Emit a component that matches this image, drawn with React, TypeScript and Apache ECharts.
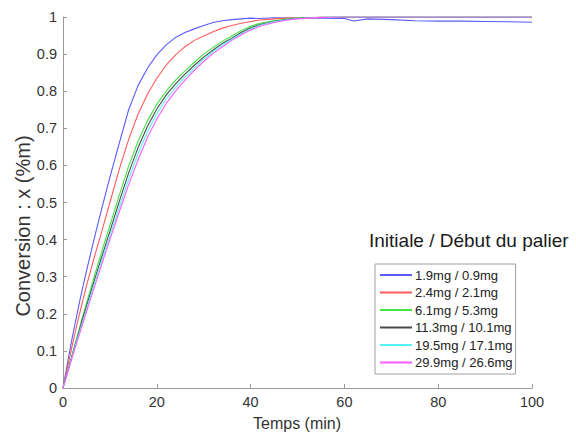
import React, { useEffect, useRef } from "react";
import * as echarts from "echarts";

const times = [0, 1, 2, 3, 4, 5, 6, 7, 8, 9, 10, 12, 14, 16, 18, 20, 22, 24, 26, 28, 30, 32, 34, 36, 38, 40, 42, 45, 48, 50, 55, 60, 62, 65, 70, 75, 80, 85, 90, 95, 100];

const blue = [0, 0.07, 0.138, 0.2, 0.26, 0.315, 0.368, 0.42, 0.47, 0.52, 0.568, 0.66, 0.75, 0.815, 0.862, 0.898, 0.925, 0.945, 0.958, 0.968, 0.977, 0.985, 0.99, 0.993, 0.995, 0.997, 0.996, 0.998, 0.997, 0.998, 0.997, 0.996, 0.989, 0.995, 0.993, 0.99, 0.989, 0.989, 0.988, 0.987, 0.986];
const red = [0, 0.058, 0.116, 0.172, 0.225, 0.275, 0.322, 0.367, 0.41, 0.455, 0.5, 0.59, 0.67, 0.738, 0.792, 0.835, 0.87, 0.898, 0.92, 0.937, 0.949, 0.96, 0.97, 0.977, 0.983, 0.988, 0.992, 0.995, 0.997, 0.998, 0.999, 0.999, 0.999, 0.999, 0.999, 0.999, 0.999, 0.999, 0.999, 0.999, 0.999];
const green = [0, 0.046, 0.092, 0.138, 0.184, 0.228, 0.272, 0.315, 0.357, 0.398, 0.438, 0.52, 0.598, 0.665, 0.72, 0.765, 0.8, 0.83, 0.855, 0.878, 0.9, 0.918, 0.935, 0.949, 0.963, 0.975, 0.983, 0.99, 0.995, 0.997, 0.999, 1, 1, 1, 1, 1, 1, 1, 1, 1, 1];
const black = [0, 0.045, 0.09, 0.134, 0.178, 0.22, 0.262, 0.303, 0.343, 0.383, 0.422, 0.503, 0.58, 0.648, 0.705, 0.752, 0.79, 0.82, 0.846, 0.87, 0.892, 0.911, 0.929, 0.943, 0.958, 0.971, 0.98, 0.988, 0.994, 0.996, 0.999, 1, 1, 1, 1, 1, 1, 1, 1, 1, 1];
const cyan = [0, 0.043, 0.087, 0.13, 0.171, 0.212, 0.253, 0.293, 0.333, 0.372, 0.41, 0.488, 0.563, 0.632, 0.69, 0.739, 0.779, 0.81, 0.838, 0.862, 0.887, 0.907, 0.925, 0.94, 0.955, 0.968, 0.978, 0.987, 0.993, 0.996, 0.999, 1, 1, 1, 1, 1, 1, 1, 1, 1, 1];
const magenta = [0, 0.042, 0.084, 0.125, 0.165, 0.205, 0.245, 0.284, 0.323, 0.362, 0.4, 0.475, 0.548, 0.615, 0.675, 0.725, 0.767, 0.8, 0.83, 0.856, 0.88, 0.902, 0.92, 0.937, 0.952, 0.965, 0.975, 0.985, 0.992, 0.995, 0.999, 1, 1, 1, 1, 1, 1, 1, 1, 1, 1];

const seriesNames = ["1.9mg / 0.9mg", "2.4mg / 2.1mg", "6.1mg / 5.3mg", "11.3mg / 10.1mg", "19.5mg / 17.1mg", "29.9mg / 26.6mg"];
const seriesValues = [blue, red, green, black, cyan, magenta];
const seriesColors = ["#5a5aff", "#ff5a5a", "#44e444", "#4a4a4a", "#55f2f2", "#ff5aff"];

const xTicks = [0, 20, 40, 60, 80, 100];
const legendTitle = "Initiale / Début du palier";
const xName = "Temps (min)";
const yName = "Conversion : x (%m)";

export default function App() {
  const ref = useRef<HTMLDivElement>(null);
  useEffect(() => {
    if (!ref.current) return;
    const chart = echarts.init(ref.current, undefined, { renderer: "svg" });
    const font = "Liberation Sans, Arial, sans-serif";
    chart.setOption({
      animation: false,
      backgroundColor: "#ffffff",
      textStyle: { fontFamily: font },
      title: {
        text: legendTitle,
        left: 369,
        top: 231,
        padding: 0,
        textStyle: { fontFamily: font, fontSize: 19, fontWeight: "normal", color: "#1a1a1a" },
      },
      graphic: [
        {
          type: "text",
          x: 23,
          y: 226,
          rotation: Math.PI / 2,
          style: {
            text: yName,
            fontFamily: font,
            fontSize: 20,
            fill: "#333",
            align: "center",
            verticalAlign: "middle",
          },
        },
        {
          type: "text",
          x: 297,
          y: 423,
          style: {
            text: xName,
            fontFamily: font,
            fontSize: 16,
            fill: "#333",
            align: "center",
            verticalAlign: "middle",
          },
        },
      ],
      legend: {
        orient: "vertical",
        left: 375,
        top: 264,
        icon: "rect",
        itemWidth: 32,
        itemHeight: 2,
        itemGap: 2.5,
        padding: [3.5, 3, 4, 5],
        borderColor: "#a0a0a0",
        borderWidth: 1,
        textStyle: { fontFamily: font, fontSize: 13, lineHeight: 15, color: "#222", padding: [0, 0, 0, -2] },
        data: seriesNames,
      },
      grid: { left: 63, right: 44, top: 17, bottom: 47, containLabel: false },
      xAxis: {
        type: "value",
        min: 0,
        max: 100,
        interval: 20,
        axisLine: { show: true, lineStyle: { color: "#999", width: 1 } },
        axisTick: { show: true, inside: true, length: 4, lineStyle: { color: "#999" } },
        axisLabel: {
          fontFamily: font,
          fontSize: 14.5,
          color: "#333",
          margin: 6,
          formatter: (v: number) => (xTicks.includes(v) ? String(v) : ""),
        },
        splitLine: { show: false },
      },
      yAxis: {
        type: "value",
        min: 0,
        max: 1,
        interval: 0.1,
        axisLine: { show: true, lineStyle: { color: "#999", width: 1 } },
        axisTick: { show: true, inside: true, length: 4, lineStyle: { color: "#999" } },
        axisLabel: {
          fontFamily: font,
          fontSize: 14.5,
          color: "#333",
          margin: 6,
          formatter: (v: number) => String(Math.round(v * 10) / 10),
        },
        splitLine: { show: false },
      },
      series: seriesNames.map((name, i) => ({
        name,
        type: "line",
        data: times.map((t, j) => [t, seriesValues[i][j]]),
        showSymbol: false,
        symbol: "none",
        smooth: false,
        lineStyle: { color: seriesColors[i], width: 1.1 },
        itemStyle: { color: seriesColors[i] },
      })),
    });
    return () => chart.dispose();
  }, []);
  return <div ref={ref} style={{ position: "absolute", left: 0, top: 0, width: 576, height: 435 }} />;
}
